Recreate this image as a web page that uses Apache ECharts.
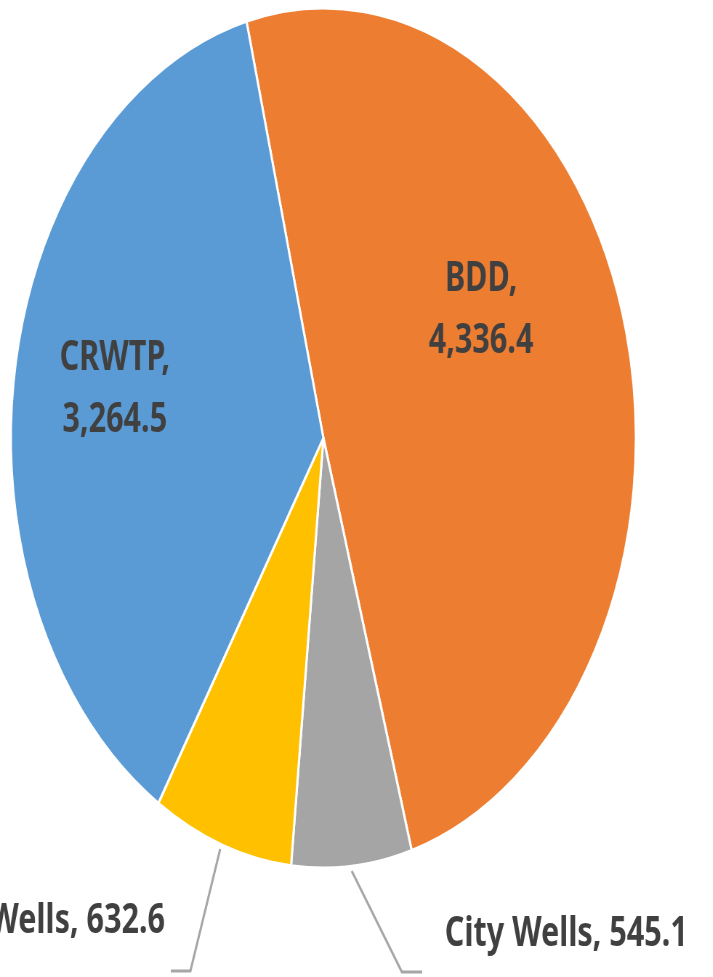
<!DOCTYPE html>
<html>
<head>
<meta charset="utf-8">
<script src="https://cdn.jsdelivr.net/npm/echarts@6/dist/echarts.min.js"></script>
<style>
html, body { margin: 0; padding: 0; overflow: hidden; background: #ffffff; }
#wrap { width: 713px; height: 977px; overflow: hidden; }
/* the original pie is squashed into an ellipse, so draw a circle and squeeze it */
#chart { width: 981px; height: 977px; transform: scaleX(0.7267); transform-origin: 0 0; }
</style>
</head>
<body>
<div id="wrap"><div id="chart"></div></div>
<script>
var sources = ['BDD', 'City Wells', 'Private Wells', 'CRWTP'];
var volumes = [4336.4, 545.1, 632.6, 3264.5];
var colors = ['#ED7D31', '#A5A5A5', '#FFC000', '#5B9BD5'];

var fmt = function (v) {
    return v.toLocaleString('en-US', {minimumFractionDigits: 1, maximumFractionDigits: 1});
};

var chart = echarts.init(document.getElementById('chart'));

// where each label sits (unsqueezed space) and its leader line
var spots = [
    {x: 662, y: 310, align: 'center'},
    {x: 612, y: 934, align: 'left', line: [[484, 871], [553, 972], [581, 972]]},
    {x: 227, y: 921, align: 'right', line: [[303, 849], [262, 971], [235, 971]]},
    {x: 158, y: 389, align: 'center'}
];

var data = sources.map(function (name, i) {
    var inner = (i === 0 || i === 3);
    return {
        name: name,
        value: volumes[i],
        itemStyle: {color: colors[i]},
        label: {
            position: inner ? 'inside' : 'outside',
            formatter: inner ? '{b},\n' + fmt(volumes[i]) : '{b}, ' + fmt(volumes[i])
        },
        labelLine: {show: !inner}
    };
});

var option = {
    backgroundColor: '#ffffff',
    animation: false,
    series: [{
        type: 'pie',
        center: [445, 438],
        radius: 430,
        startAngle: 104.25,
        clockwise: true,
        data: data,
        itemStyle: {
            borderColor: '#ffffff',
            borderWidth: 3
        },
        label: {
            show: true,
            color: '#404040',
            fontFamily: 'Noto Sans',
            fontWeight: 'bold',
            fontSize: 42,
            lineHeight: 62,
            overflow: 'none'
        },
        labelLine: {
            lineStyle: {color: '#A6A6A6', width: 3}
        },
        labelLayout: function (params) {
            var s = spots[params.dataIndex];
            var out = {x: s.x, y: s.y, align: s.align, verticalAlign: 'middle'};
            if (s.line) {
                out.labelLinePoints = s.line;
            }
            return out;
        },
        emphasis: {disabled: true}
    }]
};
chart.setOption(option);
</script>
</body>
</html>
